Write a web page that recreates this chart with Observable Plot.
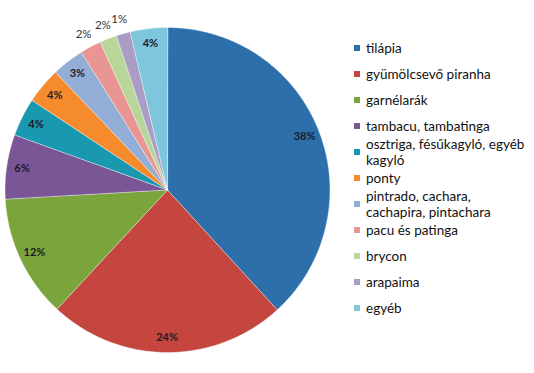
<!DOCTYPE html>
<html><head><meta charset="utf-8">
<script src="https://cdn.jsdelivr.net/npm/d3@7"></script>
<script src="https://cdn.jsdelivr.net/npm/@observablehq/plot@0.6"></script>
<style>
body{margin:0;background:#fff;}
#wrap{position:relative;width:534px;height:373px;overflow:hidden;}
#wrap svg{position:absolute;left:0;top:0;}
#legend{position:absolute;left:354px;top:35px;font-family:Lato,"Open Sans",sans-serif;font-size:13.5px;color:#111;}
.item{height:26px;display:flex;align-items:center;width:180px;}
.sw{width:6px;height:6px;flex:none;margin-right:6px;}
.tx{line-height:16px;white-space:pre;}
</style></head>
<body><div id="wrap"><div id="legend"></div></div>
<script>
const categories = ["tilápia","gyümölcsevő piranha","garnélarák","tambacu, tambatinga","osztriga, fésűkagyló, egyéb\nkagyló","ponty","pintrado, cachara,\ncachapira, pintachara","pacu és patinga","brycon","arapaima","egyéb"];
const values = [38.2, 23.7, 12.2, 6.4, 3.8, 3.6, 3.2, 2.1, 1.7, 1.4, 3.7];
const colors = ["#2D6FAB","#C4463F","#7AA53C","#7A5697","#1A98AF","#F58B2D","#93AED6","#E99593","#B8D59A","#A99CC5","#7DC6DB"];

const pie = d3.pie().sort(null).value(d => d.value);
const data = categories.map((name, i) => ({name, value: values[i], color: colors[i]}));
const arcs = pie(data);
const pt = (a, r) => [r * Math.sin(a), -r * Math.cos(a)];
const slices = arcs.map(a => {
  const ring = [[0, 0]];
  const n = Math.max(2, Math.ceil((a.endAngle - a.startAngle) / 0.01));
  for (let k = 0; k <= n; k++) ring.push(pt(a.startAngle + (a.endAngle - a.startAngle) * k / n, 1));
  ring.push([0, 0]);
  return {type: "Feature", properties: a.data, geometry: {type: "Polygon", coordinates: [ring]}};
});
const labels = arcs.map(a => {
  const mid = (a.startAngle + a.endAngle) / 2;
  const outside = a.data.value < 3;
  const [x, y] = pt(mid, outside ? 1.09 : 0.905);
  return {x, y, outside, text: Math.round(a.data.value) + "%"};
});

const chart = Plot.plot({
  width: 534, height: 373,
  marginLeft: 4.5, marginRight: 204.5, marginTop: 27, marginBottom: 21,
  projection: {type: "identity", clip: false, domain: {type: "MultiPoint", coordinates: [[-1, -1], [1, 1]]}},
  style: {background: "transparent", overflow: "visible"},
  marks: [
    Plot.geo(slices, {fill: d => d.properties.color, stroke: "#ffffff", strokeWidth: 0.6, strokeOpacity: 0.7}),
    Plot.text(labels.filter(d => !d.outside), {x: "x", y: "y", text: "text", fontFamily: "Lato, sans-serif", fontWeight: "bold", fontSize: 11, fill: "#1b1b2b"}),
    Plot.text(labels.filter(d => d.outside), {x: "x", y: "y", text: "text", fontFamily: "Lato, sans-serif", fontSize: 11.5, fill: "#333333", clip: false})
  ]
});
const wrap = document.getElementById("wrap");
wrap.insertBefore(chart, wrap.firstChild);

const legend = d3.select("#legend");
const items = legend.selectAll(".item").data(data).join("div").attr("class", "item");
items.append("div").attr("class", "sw").style("background", d => d.color);
items.append("div").attr("class", "tx").text(d => d.name);
</script>
</body></html>
